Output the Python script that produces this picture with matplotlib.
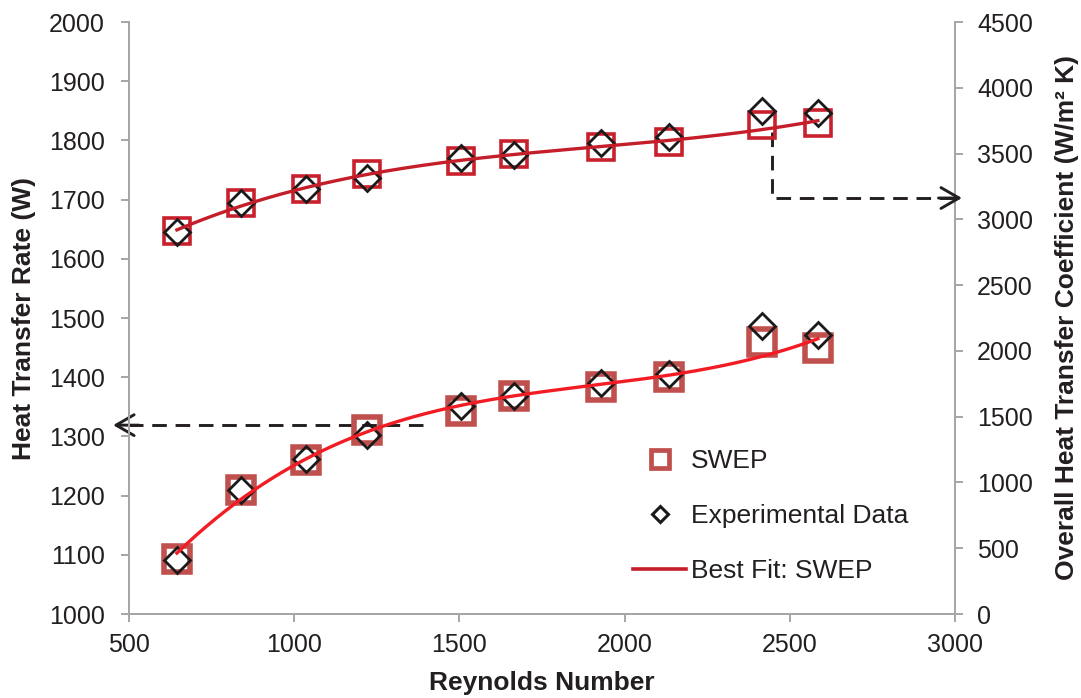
import numpy as np
import matplotlib.pyplot as plt
from matplotlib.lines import Line2D

plt.rcParams['font.family'] = ['Liberation Sans', 'DejaVu Sans']

# Reynolds numbers of the test runs
reynolds = [645, 840, 1035, 1220, 1505, 1665, 1930, 2135, 2415, 2585]

# Heat transfer rate (W), left axis
q_swep = [1093, 1210, 1260, 1311, 1343, 1369, 1383, 1401, 1459, 1450]
q_exp = [1092, 1209, 1262, 1303, 1351, 1369, 1391, 1405, 1486, 1471]

# Overall heat transfer coefficient (W/m2 K), right axis
u_swep = [2909, 3122, 3231, 3347, 3443, 3494, 3547, 3590, 3717, 3730]
u_exp = [2901, 3122, 3228, 3316, 3464, 3489, 3582, 3628, 3826, 3810]

x_ticks = [500, 1000, 1500, 2000, 2500, 3000]

grey = '#A6A6A6'
txt = '#231F20'

fig = plt.figure(figsize=(10.81, 6.98), dpi=100)
ax = fig.add_axes([129 / 1081, 1 - 614 / 698, (955 - 129) / 1081, (614 - 22) / 698])
ax2 = ax.twinx()

# cubic trend lines through the SWEP values
xs = np.linspace(min(reynolds), max(reynolds), 200)
q_fit = np.polyval(np.polyfit(reynolds, q_swep, 3), xs)
u_fit = np.polyval(np.polyfit(reynolds, u_swep, 3), xs)

# heat transfer rate
ax.plot(reynolds, q_swep, ls='none', marker='s', ms=19, mew=4,
        mec='#C0504D', mfc='none', zorder=3)
ax.plot(reynolds, q_exp, ls='none', marker='D', ms=13.5, mew=2,
        mec='#1A1A1A', mfc='none', zorder=4)
ax.plot(xs, q_fit, color='#F21D24', lw=2.4, zorder=5)

# overall heat transfer coefficient
ax2.plot(reynolds, u_swep, ls='none', marker='s', ms=19, mew=2.6,
         mec='#C8202C', mfc='none', zorder=3)
ax2.plot(reynolds, u_exp, ls='none', marker='D', ms=13.5, mew=2,
         mec='#1A1A1A', mfc='none', zorder=4)
ax2.plot(xs, u_fit, color='#C41E2A', lw=2.4, zorder=5)

# dashed pointers to the axis each series belongs to
dash = dict(color='#231F20', lw=2.1, ls=(0, (5, 3)), clip_on=False)
head = dict(arrowstyle='->,head_length=1.3,head_width=0.75', color='#231F20',
            lw=2.1, shrinkA=0, shrinkB=0)
ax.plot([1390, 470], [1319, 1319], **dash)
ax.annotate('', xy=(452, 1319), xytext=(530, 1319), arrowprops=head,
            annotation_clip=False)
ax2.plot([2446, 2446, 3000], [3666, 3162, 3162], **dash)
ax2.annotate('', xy=(3021, 3162), xytext=(2950, 3162), arrowprops=head,
             annotation_clip=False)

ax.set_xlim(500, 3000)
ax.set_ylim(1000, 2000)
ax2.set_ylim(0, 4500)
ax.set_xticks(x_ticks)
ax.set_yticks(np.arange(1000, 2001, 100))
ax2.set_yticks(np.arange(0, 4501, 500))

for a in (ax, ax2):
    a.spines['top'].set_visible(False)
    for s in ('left', 'right', 'bottom'):
        a.spines[s].set_color(grey)
        a.spines[s].set_linewidth(1.4)
    a.tick_params(colors=grey, labelcolor=txt, labelsize=18, length=5.5,
                  width=1.4, direction='out')
ax.tick_params(axis='x', pad=8)
ax.tick_params(axis='y', pad=12)
ax2.tick_params(axis='y', pad=10.5)

ax.set_xlabel('Reynolds Number', fontsize=19, fontweight='bold', color=txt)
ax.set_ylabel('Heat Transfer Rate (W)', fontsize=19, fontweight='bold', color=txt)
ax2.set_ylabel('Overall Heat Transfer Coefficient (W/m² K)', fontsize=19,
               fontweight='bold', color=txt)
ax.xaxis.label.set_va('center')
ax.yaxis.label.set_va('center')
ax2.yaxis.label.set_va('center')
ax.xaxis.set_label_coords(0.5, -0.1166)
ax.yaxis.set_label_coords(-0.1271, 0.5)
ax2.yaxis.set_label_coords(1.1356, 0.5)

handles = [
    Line2D([], [], ls='none', marker='s', ms=13, mew=3.4, mec='#C0504D', mfc='none'),
    Line2D([], [], ls='none', marker='D', ms=8.5, mew=2.2, mec='#1A1A1A', mfc='none'),
    Line2D([], [], color='#C41E2A', lw=2.6),
]
labels = ['SWEP', 'Experimental Data', 'Best Fit: SWEP']
fig.legend(handles, labels, loc='center', bbox_to_anchor=(771 / 1081, 1 - 516 / 698),
           frameon=False, fontsize=19, labelspacing=1.17, handlelength=2.0,
           handletextpad=0.2, labelcolor=txt)

fig.savefig('out.png', dpi=100)
